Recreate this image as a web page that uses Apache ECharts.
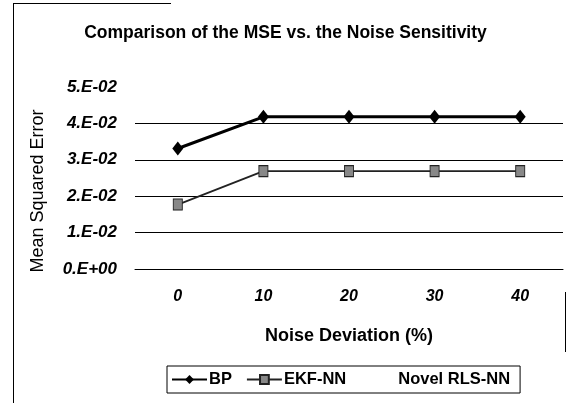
<!DOCTYPE html>
<html>
<head>
<meta charset="utf-8">
<script src="https://cdn.jsdelivr.net/npm/echarts@6/dist/echarts.min.js"></script>
<style>
  html, body { margin: 0; padding: 0; background: #fff; }
  #chart { width: 571px; height: 403px; }
</style>
</head>
<body>
<div id="chart"></div>
<script>
// Noise deviation levels (%) on the category axis
const categories = ['0', '10', '20', '30', '40'];

// Mean squared error per method
const bpValues = [0.0331, 0.0418, 0.0418, 0.0418, 0.0418];
const ekfValues = [0.0177, 0.0269, 0.0269, 0.0269, 0.0269];
const rlsValues = [];

// Tick labels of the value axis
const yTickLabels = {
  '0': '0.E+00', '0.01': '1.E-02', '0.02': '2.E-02',
  '0.03': '3.E-02', '0.04': '4.E-02', '0.05': '5.E-02'
};

const FONT = 'Liberation Sans, Arial, sans-serif';

const chart = echarts.init(document.getElementById('chart'), null, { renderer: 'canvas' });

chart.setOption({
  backgroundColor: '#fff',
  animation: false,
  title: {
    text: 'Comparison of the MSE vs. the Noise Sensitivity',
    left: 'center',
    top: 19,
    textStyle: { fontFamily: FONT, fontSize: 17.5, fontWeight: 'bold', color: '#000' }
  },
  grid: { left: 135, right: 8, top: 87, bottom: 134, containLabel: false },
  legend: {
    bottom: 10,
    left: 167,
    width: 400,
    itemWidth: 35,
    itemHeight: 11,
    itemGap: 14,
    padding: [5, 10, 5, 4],
    borderColor: '#000',
    borderWidth: 1,
    textStyle: { fontFamily: FONT, fontSize: 16.5, fontWeight: 'bold', color: '#000', padding: [0, 0, 0, -3] },
    data: ['BP', 'EKF-NN', 'Novel RLS-NN']
  },
  xAxis: {
    type: 'category',
    data: categories,
    boundaryGap: true,
    name: 'Noise Deviation (%)',
    nameLocation: 'middle',
    nameGap: 58,
    nameTextStyle: { fontFamily: FONT, fontSize: 18, fontWeight: 'bold', color: '#000' },
    axisLine: { lineStyle: { color: '#000', width: 1 } },
    axisTick: { inside: true, length: 5, lineStyle: { color: '#000' } },
    axisLabel: {
      margin: 20,
      fontFamily: FONT, fontSize: 16, fontWeight: 'bold', fontStyle: 'italic', color: '#000'
    },
    splitLine: { show: false }
  },
  yAxis: {
    type: 'value',
    min: 0,
    max: 0.05,
    interval: 0.01,
    name: 'Mean Squared Error',
    nameLocation: 'middle',
    nameGap: 88,
    nameTextStyle: { fontFamily: FONT, fontSize: 18, color: '#000', padding: [0, 26, 0, 0] },
    axisLine: { show: false },
    axisTick: { show: false },
    axisLabel: {
      margin: 18,
      fontFamily: FONT, fontSize: 17, fontWeight: 'bold', fontStyle: 'italic', color: '#000',
      formatter: v => yTickLabels[String(+v.toFixed(2))] || ''
    },
    splitLine: {
      show: true,
      lineStyle: { color: ['#000', '#000', '#000', '#000', '#000', '#fff'], width: 1 }
    }
  },
  series: [
    {
      name: 'BP',
      type: 'line',
      data: bpValues,
      symbol: 'diamond',
      symbolSize: [11, 14],
      color: '#000',
      itemStyle: { color: '#000' },
      lineStyle: { color: '#000', width: 3 },
      z: 3
    },
    {
      name: 'EKF-NN',
      type: 'line',
      data: ekfValues,
      symbol: 'rect',
      symbolSize: [9, 11],
      color: '#777',
      itemStyle: { color: '#888', borderColor: '#222', borderWidth: 1 },
      lineStyle: { color: '#222', width: 1.8 },
      z: 3
    },
    {
      name: 'Novel RLS-NN',
      type: 'line',
      data: rlsValues,
      symbol: 'none',
      color: '#fff',
      lineStyle: { color: '#fff', width: 1 }
    }
  ],
  graphic: [
    // partial outer frame
    { type: 'line', shape: { x1: 13.5, y1: 3, x2: 13.5, y2: 403 }, style: { stroke: '#000', lineWidth: 1 } },
    { type: 'line', shape: { x1: 13, y1: 3.5, x2: 171, y2: 3.5 }, style: { stroke: '#000', lineWidth: 1 } },
    { type: 'line', shape: { x1: 565.5, y1: 292, x2: 565.5, y2: 352 }, style: { stroke: '#000', lineWidth: 1 } }
  ]
});
</script>
</body>
</html>
